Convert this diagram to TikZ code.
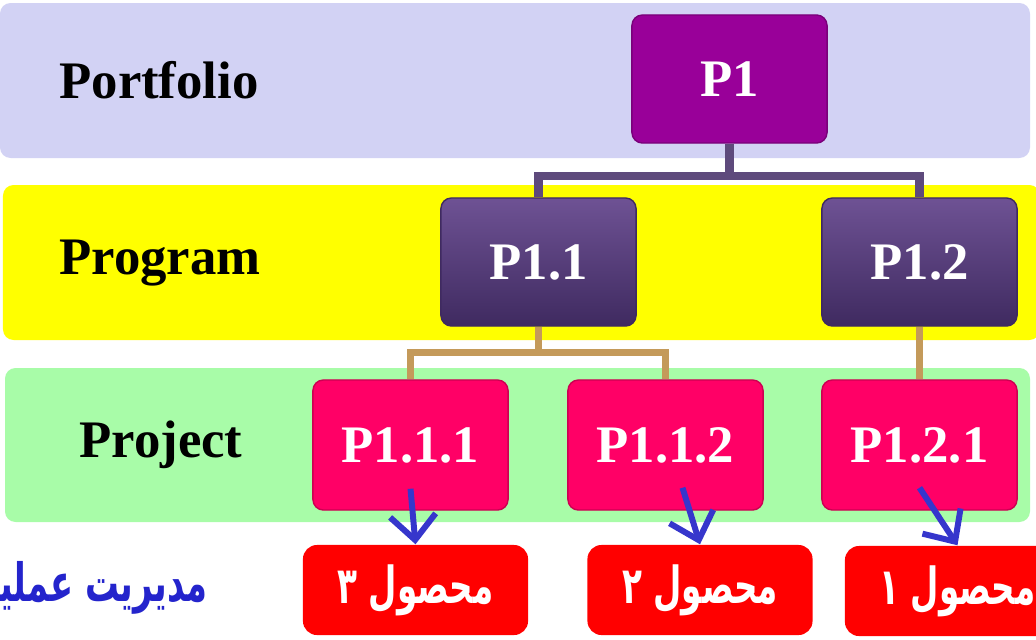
\documentclass[tikz,border=0pt]{standalone}
\usepackage{fontspec}
\setmainfont{Liberation Serif}
\newfontfamily\fafont[Script=Arabic]{DejaVu Sans}
\TeXXeTstate=1
\usepackage{xcolor}
\usepackage{graphicx}
\usepackage{tikz}
\usetikzlibrary{arrows.meta}

\definecolor{bandA}{HTML}{D2D2F4}
\definecolor{bandB}{HTML}{FFFF00}
\definecolor{bandC}{HTML}{A8FCA8}
\definecolor{pfolio}{HTML}{990099}
\definecolor{progtop}{HTML}{6E5294}
\definecolor{progbot}{HTML}{3F2A60}
\definecolor{proj}{HTML}{FF0066}
\definecolor{prod}{HTML}{FF0000}
\definecolor{lineA}{HTML}{5E4A7C}
\definecolor{lineB}{HTML}{C49A5A}
\definecolor{arrowblue}{HTML}{3636CC}
\definecolor{titleblue}{HTML}{2424CC}

% 窄体波斯文
\newcommand{\fatext}[1]{\scalebox{0.64}[1]{\beginR #1\endR}}

\tikzset{
  band/.style={rounded corners=3pt},
  level/.style={font=\fontsize{15}{18}\selectfont\bfseries},
  box/.style={rectangle, rounded corners=3pt, minimum width=1.95cm, minimum height=1.28cm,
    text=white, font=\fontsize{15}{18}\selectfont\bfseries},
  pbox/.style={box, fill=pfolio, draw=pfolio!80!black},
  gbox/.style={box, top color=progtop, bottom color=progbot, draw=progbot},
  jbox/.style={box, fill=proj, draw=proj!80!black, minimum height=1.3cm},
  dbox/.style={rectangle, rounded corners=4pt, fill=prod, minimum width=2.25cm,
    minimum height=0.9cm, text=white, font=\fafont\fontsize{14.5}{16}\selectfont\bfseries},
  orgA/.style={draw=lineA, line width=2.3pt},
  orgB/.style={draw=lineB, line width=2pt},
  outarrow/.style={draw=arrowblue, line width=1.7pt, -{Straight Barb[length=7pt,width=13pt]}},
}

\begin{document}
\begin{tikzpicture}[x=0.01cm, y=-0.01cm]
  \useasboundingbox (0,0) rectangle (1036,639);
  % 三层背景
  \fill[band, bandA] (0,3) rectangle (1030,158);
  \fill[band, bandB] (3,185) rectangle (1040,340);
  \fill[band, bandC] (5,368) rectangle (1030,522);
  % 层级名称
  \node[level] (lblA) at (159,80) {Portfolio};
  \node[level] (lblB) at (160,263) {Program};
  \node[level] (lblC) at (161,445) {Project};
  % 组织结构
  \node[pbox] (p1) at (729.5,79) {P1};
  \node[gbox] (p11) at (538.5,262) {P1.1};
  \node[gbox] (p12) at (919.5,262) {P1.2};
  \node[jbox] (p111) at (410.5,445) {P1.1.1};
  \node[jbox] (p112) at (665.5,445) {P1.1.2};
  \node[jbox] (p121) at (919.5,445) {P1.2.1};
  % 连线
  \draw[orgA] (p1.south) -- ++(0,32) -| (p11.north);
  \draw[orgA] (p1.south) -- ++(0,32) -| (p12.north);
  \draw[orgB] (p11.south) -- ++(0,26) -| (p111.north);
  \draw[orgB] (p11.south) -- ++(0,26) -| (p112.north);
  \draw[orgB] (p12.south) -- (p121.north);
  % 产品
  \node[dbox] (prod3) at (415.5,590) {\fatext{محصول ۳}};
  \node[dbox] (prod2) at (700,590) {\fatext{محصول ۲}};
  \node[dbox] (prod1) at (957.5,591) {\fatext{محصول ۱}};
  \draw[outarrow] ([shift={(0,-22)}]p111.south) -- (prod3.north);
  \draw[outarrow] ([shift={(17,-23)}]p112.south) -- (prod2.north);
  \draw[outarrow] ([shift={(0,-23)}]p121.south) -- (prod1.north);
  % 标题
  \node[anchor=east, text=titleblue, font=\fafont\fontsize{15}{16}\selectfont\bfseries]
    (title) at (220,588) {\fatext{مدیریت عملیات}};
\end{tikzpicture}
\end{document}
